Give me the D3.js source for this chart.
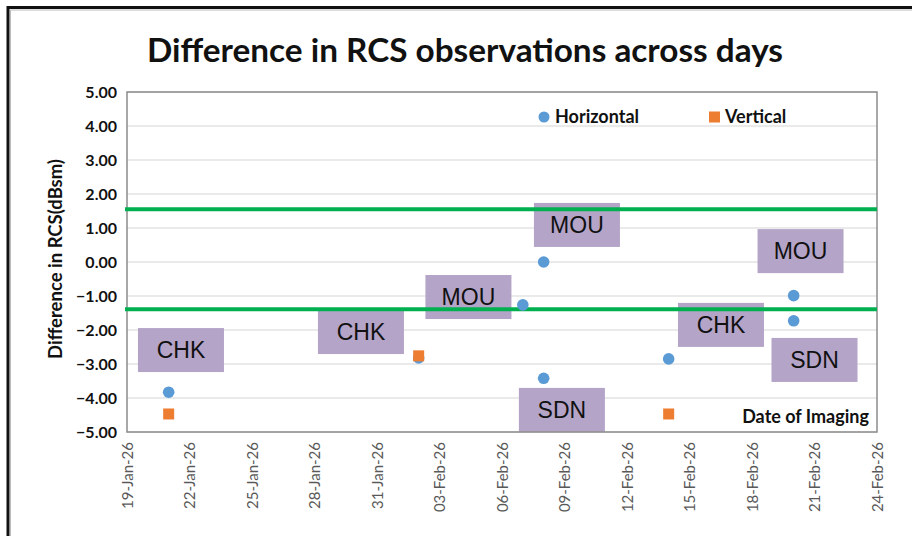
<!DOCTYPE html>
<html>
<head>
<meta charset="utf-8">
<script src="https://cdn.jsdelivr.net/npm/d3@7/dist/d3.min.js"></script>
<style>
  html, body { margin: 0; padding: 0; background: #fff; }
  svg { display: block; }
</style>
</head>
<body>
<svg id="chart" width="912" height="536"></svg>
<script>
// Horizontal-polarisation RCS differences (dBsm) by imaging date
const horizontalDates  = ["2026-01-21", "2026-02-02", "2026-02-07", "2026-02-08", "2026-02-08", "2026-02-14", "2026-02-20", "2026-02-20"];
const horizontalValues = [-3.83, -2.82, -1.26, 0.0, -3.42, -2.85, -0.99, -1.73];

// Vertical-polarisation RCS differences (dBsm)
const verticalDates  = ["2026-01-21", "2026-02-02", "2026-02-14"];
const verticalValues = [-4.47, -2.76, -4.47];

// Threshold band (dBsm)
const thresholdValues = [1.55, -1.39];

// Site labels and the (date, dBsm) point each box is centred on
const siteLabels = ["CHK", "CHK", "MOU", "MOU", "SDN", "CHK", "MOU", "SDN"];
const siteDates  = ["2026-01-21T14:10", "2026-01-30T05:30", "2026-02-04T09:20", "2026-02-09T14:20",
                    "2026-02-08T21:00", "2026-02-16T12:15", "2026-02-20T07:55", "2026-02-21T00:00"];
const siteValues = [-2.59, -2.06, -1.03, 1.09, -4.35, -1.85, 0.32, -2.88];

const yTicks = [5, 4, 3, 2, 1, 0, -1, -2, -3, -4, -5];
const xStart = "2026-01-19", xEnd = "2026-02-24";

const parse = d3.utcParse("%Y-%m-%d");
const parseT = d3.utcParse("%Y-%m-%dT%H:%M");

const svg = d3.select("#chart");
const plotLeft = 127, plotRight = 877, plotTop = 92, plotBottom = 432;

const x = d3.scaleUtc().domain([parse(xStart), parse(xEnd)]).range([plotLeft, plotRight]);
const y = d3.scaleLinear().domain([-5, 5]).range([plotBottom, plotTop]);

const calibri = "Lato, 'Open Sans', sans-serif";
const arial = "'Liberation Sans', Arial, sans-serif";

// outer frame (top and left edges)
svg.append("path")
  .attr("d", `M8,536 V7.5 H912`)
  .attr("fill", "none").attr("stroke", "#111").attr("stroke-width", 3);
svg.append("path")
  .attr("d", `M10.5,536 V10 H912`)
  .attr("fill", "none").attr("stroke", "#bbb").attr("stroke-width", 1);

// title
svg.append("text")
  .attr("x", 465).attr("y", 62)
  .attr("text-anchor", "middle")
  .attr("font-family", calibri).attr("font-weight", 700).attr("font-size", 33)
  .attr("textLength", 636).attr("lengthAdjust", "spacingAndGlyphs")
  .attr("fill", "#111")
  .text("Difference in RCS observations across days");

// gridlines
svg.append("g").selectAll("line").data(yTicks).join("line")
  .attr("x1", plotLeft).attr("x2", plotRight)
  .attr("y1", d => y(d)).attr("y2", d => y(d))
  .attr("stroke", "#e3e3e3").attr("stroke-width", 1.5);

// y axis labels
const yAxis = d3.axisLeft(y).tickValues(yTicks).tickFormat(d3.format(".2f")).tickSize(0).tickPadding(10);
const gy = svg.append("g").attr("transform", `translate(${plotLeft},0)`).call(yAxis);
gy.select(".domain").remove();
gy.selectAll("text")
  .attr("font-family", calibri).attr("font-weight", 700).attr("font-size", 16)
  .attr("fill", "#111");

// y axis title
svg.append("text")
  .attr("transform", `translate(62,259) rotate(-90)`)
  .attr("text-anchor", "middle")
  .attr("font-family", calibri).attr("font-weight", 700).attr("font-size", 18.5)
  .attr("fill", "#111")
  .text("Difference in RCS(dBsm)");

// x axis labels every three days
const xTickValues = d3.utcDay.range(parse(xStart), d3.utcDay.offset(parse(xEnd), 1), 3);
const xAxis = d3.axisBottom(x).tickValues(xTickValues).tickFormat(d3.utcFormat("%d-%b-%y")).tickSize(0).tickPadding(0);
const gx = svg.append("g").attr("transform", `translate(0,${plotBottom})`).call(xAxis);
gx.select(".domain").remove();
gx.selectAll("text")
  .attr("font-family", calibri).attr("font-size", 15)
  .attr("fill", "#595959")
  .attr("text-anchor", "end")
  .attr("transform", "rotate(-90)")
  .attr("x", -10).attr("y", 0).attr("dy", "0.35em");

// site label boxes
const boxW = 86, boxH = 44;
const sites = siteLabels.map((t, i) => ({ t, d: parseT(siteDates[i]), v: siteValues[i] }));
const gs = svg.append("g").selectAll("g").data(sites).join("g")
  .attr("transform", d => `translate(${x(d.d)},${y(d.v)})`);
gs.append("rect")
  .attr("x", -boxW / 2).attr("y", -boxH / 2).attr("width", boxW).attr("height", boxH)
  .attr("fill", "#b4a4c8");
gs.append("text")
  .attr("text-anchor", "middle").attr("dy", "0.36em")
  .attr("font-family", arial).attr("font-size", 23)
  .attr("fill", "#111")
  .text(d => d.t);

// plot border
svg.append("rect")
  .attr("x", plotLeft).attr("y", plotTop).attr("width", plotRight - plotLeft).attr("height", plotBottom - plotTop)
  .attr("fill", "none").attr("stroke", "#8c8c8c").attr("stroke-width", 1.5);

// threshold lines
svg.append("g").selectAll("line").data(thresholdValues).join("line")
  .attr("x1", plotLeft - 2).attr("x2", plotRight)
  .attr("y1", d => y(d)).attr("y2", d => y(d))
  .attr("stroke", "#00b050").attr("stroke-width", 4);

// horizontal series
const hPts = horizontalDates.map((d, i) => ({ d: parse(d), v: horizontalValues[i] }));
svg.append("g").selectAll("circle").data(hPts).join("circle")
  .attr("cx", d => x(d.d)).attr("cy", d => y(d.v)).attr("r", 5.8)
  .attr("fill", "#5b9bd5");

// vertical series
const vPts = verticalDates.map((d, i) => ({ d: parse(d), v: verticalValues[i] }));
const sq = 11;
svg.append("g").selectAll("rect").data(vPts).join("rect")
  .attr("x", d => x(d.d) - sq / 2).attr("y", d => y(d.v) - sq / 2)
  .attr("width", sq).attr("height", sq)
  .attr("fill", "#ed7d31");

// legend
const legend = svg.append("g").attr("font-family", calibri).attr("font-weight", 700).attr("font-size", 18).attr("fill", "#111");
legend.append("circle").attr("cx", 544).attr("cy", 117).attr("r", 5.5).attr("fill", "#5b9bd5");
legend.append("text").attr("x", 555).attr("y", 117).attr("dy", "0.35em").text("Horizontal");
legend.append("rect").attr("x", 709).attr("y", 111.5).attr("width", 11).attr("height", 11).attr("fill", "#ed7d31");
legend.append("text").attr("x", 725).attr("y", 117).attr("dy", "0.35em").text("Vertical");

// x axis title inside the plot
svg.append("text")
  .attr("x", 869).attr("y", 417).attr("dy", "0.35em")
  .attr("text-anchor", "end")
  .attr("font-family", calibri).attr("font-weight", 700).attr("font-size", 18)
  .attr("fill", "#111")
  .text("Date of Imaging");
</script>
</body>
</html>
